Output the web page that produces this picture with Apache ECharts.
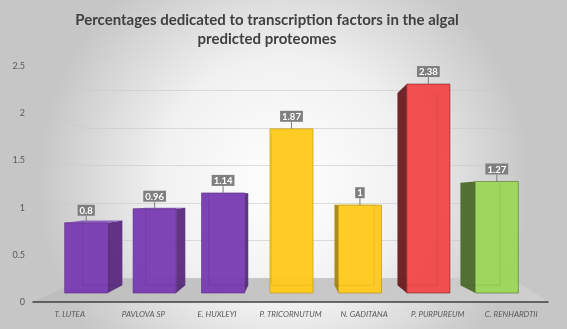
<!DOCTYPE html>
<html>
<head>
<meta charset="utf-8">
<script src="https://cdn.jsdelivr.net/npm/echarts@6/dist/echarts.min.js"></script>
<style>
  html, body { margin: 0; padding: 0; }
  #main { width: 567px; height: 329px; }
</style>
</head>
<body>
<div id="main"></div>
<script>
// data
var species = ['T. LUTEA', 'PAVLOVA SP', 'E. HUXLEYI', 'P. TRICORNUTUM', 'N. GADITANA', 'P. PURPUREUM', 'C. RENHARDTII']
var percentages = [0.8, 0.96, 1.14, 1.87, 1, 2.38, 1.27]
var yTicks = [0, 0.5, 1, 1.5, 2, 2.5]

// colours per bar: front, side, top
var frontColors = ['#7a3db2', '#7a3db2', '#7a3db2', '#ffca1f', '#ffca1f', '#f24a4a', '#9cd65a']
var sideColors = ['#58297f', '#58297f', '#58297f', '#b8920c', '#a8860a', '#6b1a1e', '#4b6a2b']
var topColors = ['#9060c4', '#9060c4', '#9060c4', '#ffd955', '#ffd955', '#f56a6a', '#b2e07a']

// fake perspective for the 3D look
var vp = [290, 196]
var depth = 0.08

function back (p) {
  return [p[0] + (vp[0] - p[0]) * depth, p[1] + (vp[1] - p[1]) * depth]
}

function renderBar (params, api) {
  var i = api.value(0)
  var top = api.coord([i, api.value(1)])
  var base = api.coord([i, 0])
  var w = api.size([1, 0])[0] * 0.63
  var x0 = top[0] - w / 2
  var x1 = top[0] + w / 2
  var yT = top[1]
  var yB = base[1]
  var children = []
  // side face
  var sx = top[0] < vp[0] - 2 ? x1 : (top[0] > vp[0] + 2 ? x0 : null)
  if (sx !== null) {
    children.push({
      type: 'polygon',
      shape: { points: [[sx, yT], [sx, yB], back([sx, yB]), back([sx, yT])] },
      style: { fill: sideColors[i], opacity: 0.95 }
    })
  }
  // top face only if under eye level
  if (yT > vp[1]) {
    children.push({
      type: 'polygon',
      shape: { points: [[x0, yT], [x1, yT], back([x1, yT]), back([x0, yT])] },
      style: { fill: topColors[i] }
    })
  }
  // front face
  children.push({
    type: 'rect',
    shape: { x: x0, y: yT, width: w, height: yB - yT },
    style: { fill: frontColors[i], stroke: sideColors[i], lineWidth: 0.6, opacity: 0.97 }
  })
  // inner back edges (glass look)
  var bl = back([x0, yB])
  var br = back([x1, yB])
  var bt = back(sx === x0 ? [x1, yT] : [x0, yT])
  var bb = sx === x0 ? br : bl
  children.push({
    type: 'polyline',
    shape: { points: [bl, br] },
    style: { stroke: 'rgba(0,0,0,0.1)', lineWidth: 0.8, fill: null }
  })
  children.push({
    type: 'line',
    shape: { x1: bt[0], y1: bt[1], x2: bb[0], y2: bb[1] },
    style: { stroke: 'rgba(0,0,0,0.1)', lineWidth: 0.8 }
  })
  // leader + data label
  children.push({
    type: 'line',
    shape: { x1: top[0], y1: yT, x2: top[0], y2: yT - 7 },
    style: { stroke: '#7f7f7f', lineWidth: 1 }
  })
  children.push({
    type: 'text',
    style: {
      text: String(api.value(1)),
      x: top[0],
      y: yT - 7,
      align: 'center',
      verticalAlign: 'bottom',
      fill: '#ffffff',
      font: 'bold 9.5px Lato',
      backgroundColor: '#7f7f7f',
      padding: [1, 2, 0, 2]
    }
  })
  return { type: 'group', children: children }
}

var chart = echarts.init(document.getElementById('main'))

// floor and left wall grid lines
var graphics = [{
  type: 'polygon',
  z: 0,
  shape: { points: [[33, 302], [548, 302], [512, 278], [86, 278]] },
  style: {
    fill: new echarts.graphic.LinearGradient(0, 0, 1, 0, [
      { offset: 0, color: '#bdbdbd' },
      { offset: 1, color: '#cfcfcf' }
    ])
  }
}]
yTicks.forEach(function (v) {
  if (v === 0) return
  graphics.push({
    type: 'line',
    z: 0,
    shape: { x1: 38, y1: 302 - v * 94.4, x2: 86, y2: 278 - v * 75 },
    style: { stroke: 'rgba(200,200,200,0.6)', lineWidth: 1 }
  })
})

chart.setOption({
  backgroundColor: {
    type: 'radial',
    x: 0.5,
    y: 0.55,
    r: 0.75,
    colorStops: [
      { offset: 0, color: '#ffffff' },
      { offset: 0.5, color: '#f1f1f1' },
      { offset: 1, color: '#c6c6c6' }
    ]
  },
  textStyle: { fontFamily: 'Lato' },
  title: {
    text: 'Percentages dedicated to transcription factors in the algal\npredicted proteomes',
    left: 262,
    top: 6,
    textAlign: 'center',
    textStyle: {
      fontFamily: 'Lato',
      fontWeight: 'bold',
      fontSize: 15,
      lineHeight: 19,
      color: '#404040',
      align: 'center'
    }
  },
  graphic: graphics,
  grid: [
    { left: 33, right: 19, top: 66, bottom: 27 },
    { left: 86, right: 55, top: 90.5, bottom: 51 },
    { left: 52, right: 36, top: 73.5, bottom: 36 }
  ],
  xAxis: [
    {
      gridIndex: 0,
      type: 'category',
      data: species,
      axisLine: { lineStyle: { color: '#404040', width: 1.5 } },
      axisTick: { show: false },
      axisLabel: { color: '#595959', fontSize: 8, fontStyle: 'italic', margin: 8, interval: 0 }
    },
    { gridIndex: 1, type: 'category', data: species, show: false },
    { gridIndex: 2, type: 'category', data: species, show: false }
  ],
  yAxis: [
    {
      gridIndex: 0,
      type: 'value',
      min: 0,
      max: 2.5,
      interval: 0.5,
      axisLine: { show: false },
      axisTick: { show: false },
      splitLine: { show: false },
      axisLabel: { color: '#595959', fontSize: 9, margin: 8 }
    },
    {
      gridIndex: 1,
      type: 'value',
      min: 0,
      max: 2.5,
      interval: 0.5,
      axisLine: { show: false },
      axisTick: { show: false },
      axisLabel: { show: false },
      splitLine: { lineStyle: { color: 'rgba(200,200,200,0.6)', width: 1 } }
    },
    { gridIndex: 2, type: 'value', min: 0, max: 2.5, show: false, splitLine: { show: false } }
  ],
  series: [{
    type: 'custom',
    xAxisIndex: 2,
    yAxisIndex: 2,
    renderItem: renderBar,
    data: percentages.map(function (v, i) { return [i, v] })
  }]
})
</script>
</body>
</html>
